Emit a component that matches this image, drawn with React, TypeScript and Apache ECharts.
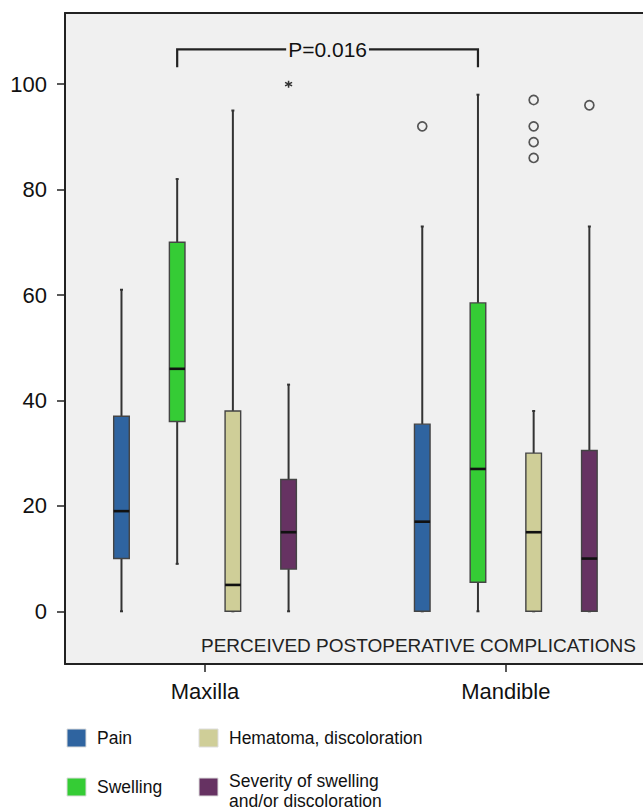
import React, { useEffect, useRef } from "react";
import * as echarts from "echarts";

// ---- data ----
const groups = ["Maxilla", "Mandible"];
const complications = ["Pain", "Swelling", "Hematoma, discoloration", "Severity of swelling\nand/or discoloration"];
const colors = ["#2f64a0", "#35cc35", "#cfce98", "#663262"];
// [min, Q1, median, Q3, max] per group (Maxilla, Mandible)
const painStats = [[0, 10, 19, 37, 61], [0, 0, 17, 35.5, 73]];
const swellingStats = [[9, 36, 46, 70, 82], [0, 5.5, 27, 58.5, 98]];
const hematomaStats = [[0, 0, 5, 38, 95], [0, 0, 15, 30, 38]];
const severityStats = [[0, 8, 15, 25, 43], [0, 0, 10, 30.5, 73]];
const allStats = [painStats, swellingStats, hematomaStats, severityStats];
// outliers (circles) per group
const painOutliers = [[], [92]];
const swellingOutliers = [[], []];
const hematomaOutliers = [[], [97, 92, 89, 86]];
const severityOutliers = [[], [96]];
const allOutliers = [painOutliers, swellingOutliers, hematomaOutliers, severityOutliers];
// extremes (asterisk) per group
const severityExtremes = [[100], []];
const yTicks = [0, 20, 40, 60, 80, 100];
const pValueLabel = "P=0.016";
const bracketTop = 106.6;
const bracketBottom = 103.2;
const innerTitle = "PERCEIVED POSTOPERATIVE COMPLICATIONS";

// ---- layout ----
const GROUP_STEP = 5.4;
const BOX_W = 0.28;
const xPos = (g: number, s: number) => g * GROUP_STEP + s;
const groupCenters = groups.map((_, g) => xPos(g, 1.5));
const FONT = "'Liberation Sans', Arial, sans-serif";

export default function App() {
  const ref = useRef<HTMLDivElement>(null);
  useEffect(() => {
    if (!ref.current) return;
    const chart = echarts.init(ref.current, null, { renderer: "svg" });

    const boxSeries = allStats.map((stats, s) => ({
      type: "custom",
      name: complications[s],
      xAxisIndex: 0,
      yAxisIndex: 0,
      encode: { x: 0, y: [1, 2, 3, 4, 5] },
      data: stats.map((st, g) => [xPos(g, s), ...st]),
      renderItem: (params: any, api: any) => {
        const x = api.value(0);
        const mn = api.coord([x, api.value(1)]);
        const q1 = api.coord([x, api.value(2)]);
        const md = api.coord([x, api.value(3)]);
        const q3 = api.coord([x, api.value(4)]);
        const mx = api.coord([x, api.value(5)]);
        const w = api.size([BOX_W, 0])[0];
        const cx = mn[0];
        const wl = { stroke: "#333", lineWidth: 2 };
        return {
          type: "group",
          children: [
            { type: "line", shape: { x1: cx, y1: mx[1], x2: cx, y2: q3[1] }, style: wl },
            { type: "line", shape: { x1: cx, y1: q1[1], x2: cx, y2: mn[1] }, style: wl },
            { type: "line", shape: { x1: cx - 1.5, y1: mx[1], x2: cx + 1.5, y2: mx[1] }, style: { stroke: "#333", lineWidth: 2 } },
            { type: "line", shape: { x1: cx - 1.5, y1: mn[1], x2: cx + 1.5, y2: mn[1] }, style: { stroke: "#333", lineWidth: 2 } },
            {
              type: "rect",
              shape: { x: cx - w / 2, y: q3[1], width: w, height: q1[1] - q3[1] },
              style: { fill: colors[s], stroke: "#444", lineWidth: 1.4 },
            },
            { type: "line", shape: { x1: cx - w / 2, y1: md[1], x2: cx + w / 2, y2: md[1] }, style: { stroke: "#111", lineWidth: 2.6 } },
          ],
        };
      },
      z: 3,
    }));

    const outlierData: number[][] = [];
    allOutliers.forEach((outs, s) => outs.forEach((vals, g) => vals.forEach((v) => outlierData.push([xPos(g, s), v]))));
    const extremeData: number[][] = [];
    severityExtremes.forEach((vals, g) => vals.forEach((v) => extremeData.push([xPos(g, 3), v])));

    const option: any = {
      animation: false,
      grid: {
        left: 65,
        right: 0,
        top: 13,
        bottom: 147,
        show: true,
        backgroundColor: "#f0f0f0",
        borderWidth: 0,
      },
      xAxis: [
        {
          type: "value",
          min: -1.014,
          max: 9.363,
          position: "bottom",
          axisLine: { show: true, onZero: false, lineStyle: { color: "#222", width: 2 } },
          axisTick: { show: true, customValues: groupCenters, length: 8, lineStyle: { color: "#222", width: 1.5 } },
          axisLabel: {
            customValues: groupCenters,
            formatter: (v: number) => {
              let best = 0;
              groupCenters.forEach((c, i) => { if (Math.abs(c - v) < Math.abs(groupCenters[best] - v)) best = i; });
              return groups[best];
            },
            fontSize: 22,
            color: "#111",
            margin: 16,
            fontFamily: FONT,
          },
          splitLine: { show: false },
        },
        {
          type: "value",
          min: -1.014,
          max: 9.363,
          position: "top",
          axisLine: { show: true, onZero: false, lineStyle: { color: "#222", width: 2 } },
          axisTick: { show: false },
          axisLabel: { show: false },
          splitLine: { show: false },
        },
      ],
      yAxis: {
        type: "value",
        min: -10,
        max: 113.5,
        axisLine: { show: true, onZero: false, lineStyle: { color: "#222", width: 2 } },
        axisTick: { show: true, customValues: yTicks, length: 8, lineStyle: { color: "#222", width: 1.5 } },
        axisLabel: {
          customValues: yTicks,
          fontSize: 22,
          color: "#111",
          margin: 18,
          fontFamily: FONT,
        },
        splitLine: { show: false },
      },
      series: [
        ...boxSeries,
        {
          type: "scatter",
          name: "outliers",
          data: outlierData,
          symbol: "circle",
          symbolSize: 9,
          itemStyle: { color: "rgba(0,0,0,0)", borderColor: "#555", borderWidth: 1.7, opacity: 1 },
          z: 4,
        },
        {
          type: "scatter",
          name: "extremes",
          data: extremeData,
          symbol: "path://M5,0L5,10M0.7,2.5L9.3,7.5M0.7,7.5L9.3,2.5",
          symbolSize: 7,
          itemStyle: { color: "rgba(0,0,0,0)", borderColor: "#333", borderWidth: 1.5, opacity: 1 },
          z: 4,
        },
        {
          type: "custom",
          name: "bracket",
          data: [[xPos(0, 1), xPos(1, 1), bracketTop, bracketBottom]],
          renderItem: (params: any, api: any) => {
            const a = api.coord([api.value(0), api.value(3)]);
            const b = api.coord([api.value(0), api.value(2)]);
            const c = api.coord([api.value(1), api.value(2)]);
            const d = api.coord([api.value(1), api.value(3)]);
            return {
              type: "group",
              children: [
                {
                  type: "polyline",
                  shape: { points: [a, b, c, d] },
                  style: { stroke: "#222", lineWidth: 2.2, fill: null },
                },
                {
                  type: "text",
                  x: (b[0] + c[0]) / 2,
                  y: b[1],
                  style: {
                    text: pValueLabel,
                    fill: "#111",
                    font: "21px " + FONT,
                    align: "center",
                    verticalAlign: "middle",
                    backgroundColor: "#f0f0f0",
                    padding: [0, 2],
                  },
                  z2: 10,
                },
              ],
            };
          },
          z: 5,
        },
      ],
      graphic: [
        {
          type: "text",
          left: 201,
          top: 636,
          style: {
            text: innerTitle,
            fill: "#222",
            font: "19px " + FONT,
          },
          z: 10,
        },
        // legend: Pain, Hematoma (row 1); Swelling, Severity (row 2)
        ...[0, 2, 1, 3].map((s, k) => {
          const col = k % 2;
          const row = Math.floor(k / 2);
          const sx = col === 0 ? 67 : 199;
          const sy = row === 0 ? 729 : 778;
          const multi = complications[s].indexOf("\n") >= 0;
          return {
            type: "group",
            children: [
              { type: "rect", shape: { x: sx, y: sy, width: 19, height: 18 }, style: { fill: colors[s], stroke: "#ddd", lineWidth: 1 } },
              {
                type: "text",
                x: sx + 30,
                y: multi ? sy - 7 : sy + 9,
                style: {
                  text: complications[s],
                  fill: "#111",
                  font: "17.5px " + FONT,
                  verticalAlign: multi ? "top" : "middle",
                  lineHeight: 20,
                },
              },
            ],
          };
        }),
      ],
    };
    chart.setOption(option);
    return () => chart.dispose();
  }, []);
  return <div ref={ref} style={{ position: "absolute", left: 0, top: 0, width: 643, height: 811 }} />;
}
